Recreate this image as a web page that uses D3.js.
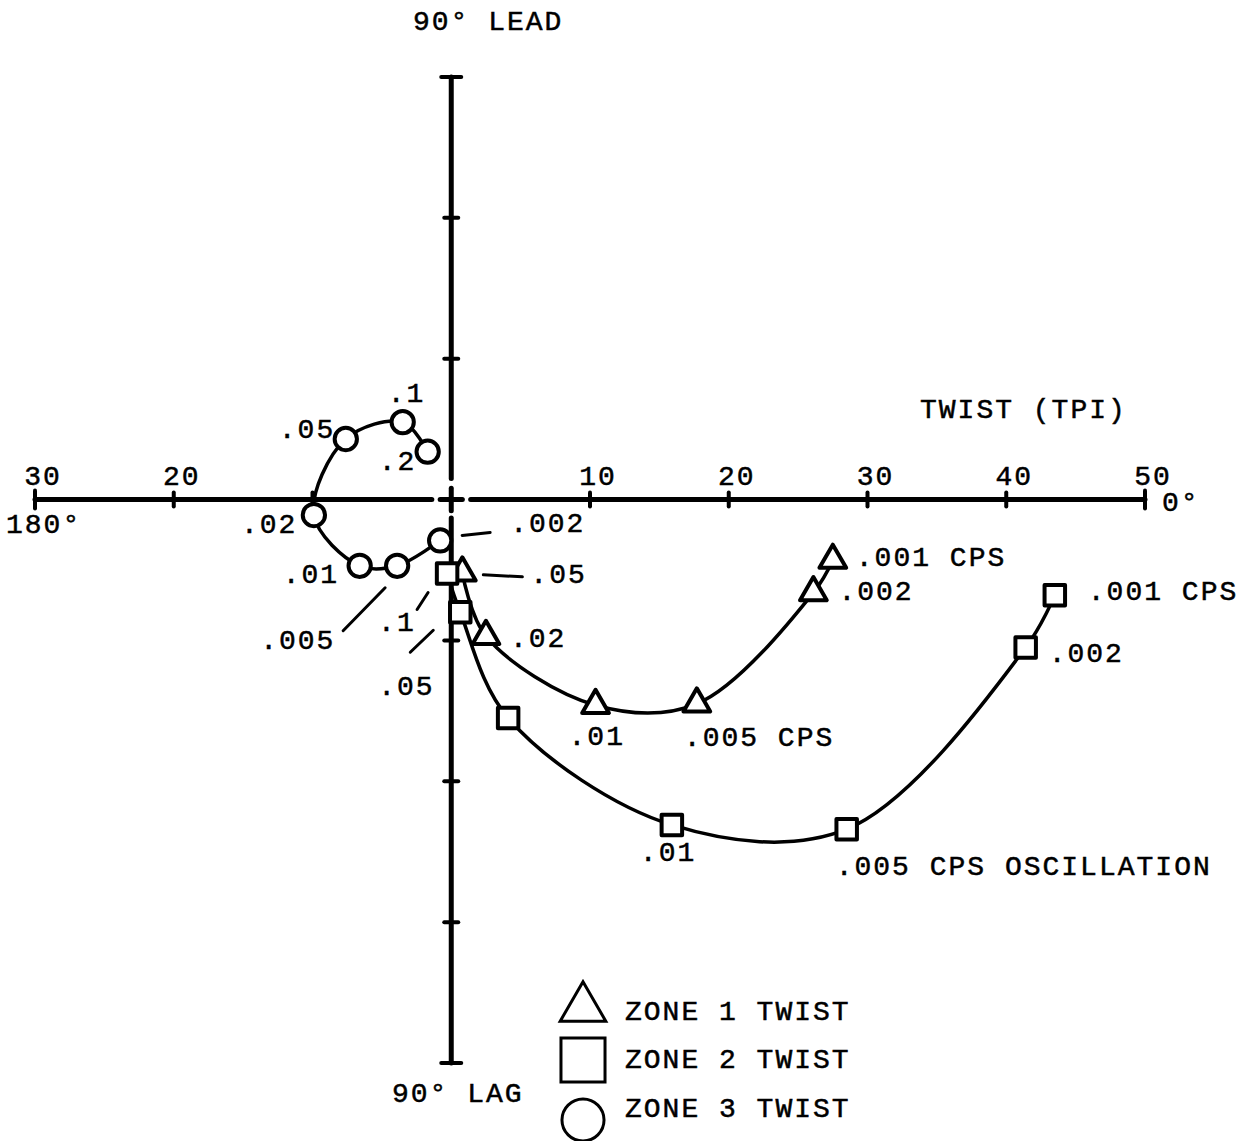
<!DOCTYPE html>
<html>
<head>
<meta charset="utf-8">
<script src="https://cdn.jsdelivr.net/npm/d3@7"></script>
<style>
  body { margin: 0; background: #fff; }
  text { font-family: "Liberation Mono", monospace; font-size: 28px; letter-spacing: 2px; fill: #000; stroke: #000; stroke-width: 0.5px; }
</style>
</head>
<body>
<svg id="chart" width="1251" height="1141"></svg>
<script>
// frequencies (CPS) and twist components (TPI)
const zone1Freq = [".05", ".02", ".01", ".005", ".002", ".001"];
const zone1X = [0.8, 2.5, 10.4, 17.7, 26.1, 27.5];
const zone1Y = [-5.2, -9.7, -14.6, -14.5, -6.6, -4.3];
const zone1Text = [".05", ".02", ".01", ".005 CPS", ".002", ".001 CPS"];

const zone2Freq = [".1", ".05", ".02", ".01", ".005", ".002", ".001"];
const zone2X = [-0.3, 0.65, 4.1, 15.9, 28.5, 41.4, 43.5];
const zone2Y = [-5.25, -8.0, -15.5, -23.1, -23.4, -10.5, -6.8];
const zone2Text = [".1", ".05", "", ".01", ".005 CPS OSCILLATION", ".002", ".001 CPS"];

const zone3Freq = [".2", ".1", ".05", ".02", ".01", ".005", ".002"];
const zone3X = [-1.7, -3.5, -7.6, -9.9, -6.6, -3.9, -0.8];
const zone3Y = [3.4, 5.5, 4.3, -1.1, -4.7, -4.7, -2.9];
const zone3Text = [".2", ".1", ".05", ".02", ".01", ".005", ".002"];

const zoneNames = ["ZONE 1 TWIST", "ZONE 2 TWIST", "ZONE 3 TWIST"];

const xTicks = [-20, -10, 10, 20, 30, 40];
const xEnds = [-30, 50];
const xTickLabels = [-30, -20, 10, 20, 30, 40, 50];
const yTicks = [20, 10, -10, -20, -30];
const yEnds = [30, -40];

// label offsets (px from the marker) and leader lines
const zone1Lab = [[68, 10], [24, 11], [-27, 40], [-13, 42], [25, 7], [23, 6]];
const zone2Lab = [[-69, 57], [-82, 83], [0, 0], [-32, 36], [-11, 46], [23, 15], [33, 5]];
const zone3Lab = [[-49, 18], [-15, -20], [-67, -1], [-73, 18], [-77, 17], [-137, 83], [70, -8]];
const zone1Lead = { ".05": [21, 2, 60, 4] };
const zone2Lead = { ".1": [-30, 36, -19, 19], ".05": [-50, 40, -27, 18] };
const zone3Lead = { ".005": [-54, 65, -12, 22], ".002": [22, -5, 50, -8] };

const svg = d3.select("#chart");
svg.append("rect").attr("width", 1251).attr("height", 1141).attr("fill", "#fff");

const x = d3.scaleLinear().domain([-30, 50]).range([35, 1145]);
const y = d3.scaleLinear().domain([30, -40]).range([77, 1063]);

const axisG = svg.append("g").attr("stroke", "#000").attr("stroke-linecap", "round");

// horizontal axis, broken around the origin
[[-30, -1.4], [1.4, 50]].forEach(s => {
  axisG.append("line").attr("x1", x(s[0])).attr("x2", x(s[1]))
    .attr("y1", y(0)).attr("y2", y(0)).attr("stroke-width", 5);
});
[[30, 1.5], [-1.3, -40]].forEach(s => {
  axisG.append("line").attr("x1", x(0)).attr("x2", x(0))
    .attr("y1", y(s[0])).attr("y2", y(s[1])).attr("stroke-width", 5);
});
// origin cross
axisG.append("line").attr("x1", x(-0.8)).attr("x2", x(0.8)).attr("y1", y(0)).attr("y2", y(0)).attr("stroke-width", 5);
axisG.append("line").attr("x1", x(0)).attr("x2", x(0)).attr("y1", y(0.8)).attr("y2", y(-0.8)).attr("stroke-width", 5);

axisG.selectAll(".xt").data(xTicks).join("line")
  .attr("x1", d => x(d)).attr("x2", d => x(d))
  .attr("y1", y(0) - 7).attr("y2", y(0) + 7).attr("stroke-width", 4);
axisG.selectAll(".xe").data(xEnds).join("line")
  .attr("x1", d => x(d)).attr("x2", d => x(d))
  .attr("y1", y(0) - 9).attr("y2", y(0) + 9).attr("stroke-width", 4);
axisG.selectAll(".yt").data(yTicks).join("line")
  .attr("x1", x(0) - 7).attr("x2", x(0) + 7)
  .attr("y1", d => y(d)).attr("y2", d => y(d)).attr("stroke-width", 4);
axisG.selectAll(".ye").data(yEnds).join("line")
  .attr("x1", x(0) - 10).attr("x2", x(0) + 10)
  .attr("y1", d => y(d)).attr("y2", d => y(d)).attr("stroke-width", 4);

svg.selectAll(".xl").data(xTickLabels).join("text")
  .attr("x", d => x(d) + 8).attr("y", y(0) - 15)
  .attr("text-anchor", "middle").text(d => Math.abs(d));

svg.append("text").attr("x", 6).attr("y", 533).text("180°");
svg.append("text").attr("x", 1162).attr("y", 511).text("0°");
svg.append("text").attr("x", 413).attr("y", 30).text("90° LEAD");
svg.append("text").attr("x", 392).attr("y", 1102).text("90° LAG");
svg.append("text").attr("x", 920).attr("y", 418).text("TWIST (TPI)");

const zones = [
  { freq: zone1Freq, xs: zone1X, ys: zone1Y, txt: zone1Text, lab: zone1Lab, lead: zone1Lead, sym: d3.symbolTriangle, size: 310 },
  { freq: zone2Freq, xs: zone2X, ys: zone2Y, txt: zone2Text, lab: zone2Lab, lead: zone2Lead, sym: d3.symbolSquare, size: 420 },
  { freq: zone3Freq, xs: zone3X, ys: zone3Y, txt: zone3Text, lab: zone3Lab, lead: zone3Lead, sym: d3.symbolCircle, size: 390 }
];

const line = d3.line().x(d => x(d[0])).y(d => y(d[1])).curve(d3.curveCatmullRom.alpha(0.5));

zones.forEach(z => {
  const pts = z.xs.map((v, i) => [v, z.ys[i]]);
  svg.append("path").datum(pts).attr("d", line)
    .attr("fill", "none").attr("stroke", "#000").attr("stroke-width", 3.5);
});

zones.forEach(z => {
  const pts = z.xs.map((v, i) => [v, z.ys[i]]);
  svg.append("g").selectAll("path").data(pts).join("path")
    .attr("d", d3.symbol().type(z.sym).size(z.size))
    .attr("transform", d => `translate(${x(d[0])},${y(d[1])})`)
    .attr("fill", "#fff").attr("stroke", "#000").attr("stroke-width", 4)
    .attr("stroke-linejoin", "round");

  svg.append("g").selectAll("text").data(pts).join("text")
    .attr("x", (d, i) => x(d[0]) + z.lab[i][0])
    .attr("y", (d, i) => y(d[1]) + z.lab[i][1])
    .text((d, i) => z.txt[i]);

  z.freq.forEach((f, i) => {
    const l = z.lead[f];
    if (!l) return;
    const px = x(pts[i][0]), py = y(pts[i][1]);
    svg.append("line")
      .attr("x1", px + l[0]).attr("y1", py + l[1])
      .attr("x2", px + l[2]).attr("y2", py + l[3])
      .attr("stroke", "#000").attr("stroke-width", 3).attr("stroke-linecap", "round");
  });
});

// legend
const legend = svg.append("g").attr("transform", "translate(583,0)");
const legY = [1008, 1060, 1120];
const legSize = [900, 1940, 1390];
zones.forEach((z, i) => {
  legend.append("path")
    .attr("d", d3.symbol().type(z.sym).size(legSize[i]))
    .attr("transform", `translate(0,${legY[i]})`)
    .attr("fill", "#fff").attr("stroke", "#000").attr("stroke-width", 3);
});
legend.selectAll("text").data(zoneNames).join("text")
  .attr("x", 42).attr("y", (d, i) => [1020, 1068, 1117][i]).text(d => d);
</script>
</body>
</html>
